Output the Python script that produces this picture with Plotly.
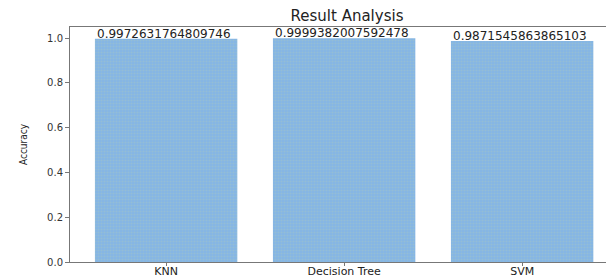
import plotly.graph_objects as go

models = ["KNN", "Decision Tree", "SVM"]
accuracy = [0.9972631764809746, 0.9999382007592478, 0.9871545863865103]
y_ticks = [0.0, 0.2, 0.4, 0.6, 0.8, 1.0]

xpos = list(range(len(models)))

# the page body has an 8px margin, so the figure is drawn 8px in from the top-left
W, H = 606, 270

fig = go.Figure()
fig.add_trace(go.Bar(
    x=xpos, y=accuracy, width=0.8,
    marker=dict(color="#88b9e4", line=dict(width=0),
                pattern=dict(shape=".", size=3, solidity=0.4,
                             fgcolor="#a3c6c4", bgcolor="#84b5e6")),
    showlegend=False, hoverinfo="skip",
))

for i, v in enumerate(accuracy):
    fig.add_annotation(x=i - 0.4, y=v, text=str(v), xanchor="left", yanchor="bottom",
                       showarrow=False, xref="x", yref="y", yshift=-4,
                       font=dict(family="DejaVu Sans", size=12, color="#222"))

fig.update_layout(
    width=W, height=H,
    margin=dict(l=62, r=0, t=19, b=16, autoexpand=False),
    paper_bgcolor="white", plot_bgcolor="white",
    title=dict(text="Result Analysis", x=339 / W, xanchor="center",
               y=1 - 7.5 / H, yanchor="middle",
               font=dict(family="DejaVu Sans", size=15, color="#222")),
    font=dict(family="DejaVu Sans", size=10, color="#333"),
)
fig.update_xaxes(range=[-0.54, 2.516], tickmode="array", tickvals=xpos, ticktext=models,
                 showline=True, linecolor="#777", linewidth=1, mirror=True,
                 ticks="outside", ticklen=3, tickcolor="#777", showgrid=False,
                 zeroline=False, automargin=False, ticklabelstandoff=-4,
                 tickfont=dict(size=11, color="#222"))
fig.update_yaxes(range=[0, 1.05], tickvals=y_ticks, ticktext=[f"{t:.1f}" for t in y_ticks],
                 showline=True, linecolor="#777", linewidth=1,
                 ticks="outside", ticklen=4, tickcolor="#777", showgrid=False,
                 zeroline=False, automargin=False, tickfont=dict(size=10, color="#333"),
                 title=dict(text="Accuracy", standoff=17,
                            font=dict(family="DejaVu Sans Condensed", size=10, color="#222")))

fig.write_html("out.html")
